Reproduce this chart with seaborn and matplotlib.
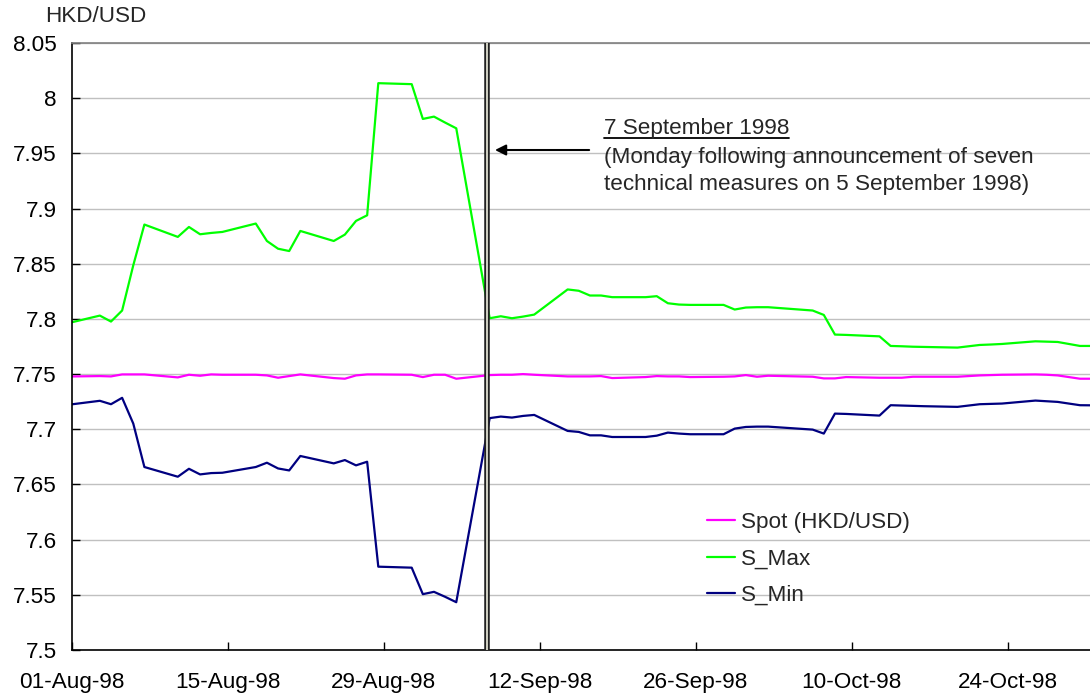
import matplotlib
matplotlib.use("Agg")
import matplotlib.pyplot as plt
import matplotlib.dates as mdates
from matplotlib.lines import Line2D
import numpy as np
import pandas as pd
import seaborn as sns

# ---------------- data ----------------
dates = ["1998-07-31",
         "1998-08-03", "1998-08-04", "1998-08-05", "1998-08-06", "1998-08-07",
         "1998-08-10", "1998-08-11", "1998-08-12", "1998-08-13", "1998-08-14",
         "1998-08-17", "1998-08-18", "1998-08-19", "1998-08-20", "1998-08-21",
         "1998-08-24", "1998-08-25", "1998-08-26", "1998-08-27", "1998-08-28",
         "1998-08-31", "1998-09-01", "1998-09-02", "1998-09-03", "1998-09-04",
         "1998-09-07", "1998-09-08", "1998-09-09", "1998-09-10", "1998-09-11",
         "1998-09-14", "1998-09-15", "1998-09-16", "1998-09-17", "1998-09-18",
         "1998-09-21", "1998-09-22", "1998-09-23", "1998-09-24", "1998-09-25",
         "1998-09-28", "1998-09-29", "1998-09-30", "1998-10-01", "1998-10-02",
         "1998-10-06", "1998-10-07", "1998-10-08", "1998-10-09",
         "1998-10-12", "1998-10-13", "1998-10-14", "1998-10-15", "1998-10-16",
         "1998-10-19", "1998-10-20", "1998-10-21", "1998-10-22", "1998-10-23",
         "1998-10-26", "1998-10-27", "1998-10-28", "1998-10-29", "1998-10-30",
         "1998-11-02"]

spot = [7.7478,
        7.7482, 7.7479, 7.7497, 7.7497, 7.7497,
        7.7470, 7.7494, 7.7485, 7.7497, 7.7494,
        7.7494, 7.7488, 7.7467, 7.7482, 7.7497,
        7.7464, 7.7458, 7.7488, 7.7497, 7.7497,
        7.7494, 7.7473, 7.7494, 7.7494, 7.7458,
        7.7491, 7.7494, 7.7494, 7.7500, 7.7494,
        7.7479, 7.7479, 7.7479, 7.7482, 7.7464,
        7.7473, 7.7482, 7.7479, 7.7479, 7.7473,
        7.7476, 7.7479, 7.7491, 7.7476, 7.7485,
        7.7476, 7.7461, 7.7461, 7.7473,
        7.7467, 7.7467, 7.7467, 7.7476, 7.7476,
        7.7476, 7.7482, 7.7488, 7.7491, 7.7494,
        7.7497, 7.7494, 7.7488, 7.7473, 7.7458,
        7.7458]

s_max = [7.7958,
         7.8030, 7.7976, 7.8076, 7.8485, 7.8855,
         7.8743, 7.8833, 7.8767, 7.8779, 7.8788,
         7.8864, 7.8706, 7.8636, 7.8615, 7.8797,
         7.8706, 7.8764, 7.8888, 7.8939, 8.0136,
         8.0127, 7.9812, 7.9833, 7.9779, 7.9727,
         7.8006, 7.8024, 7.8006, 7.8021, 7.8039,
         7.8267, 7.8255, 7.8212, 7.8212, 7.8197,
         7.8197, 7.8206, 7.8142, 7.8130, 7.8127,
         7.8127, 7.8085, 7.8103, 7.8106, 7.8106,
         7.8076, 7.8036, 7.7858, 7.7855,
         7.7842, 7.7755, 7.7752, 7.7748, 7.7746,
         7.7740, 7.7752, 7.7764, 7.7768, 7.7773,
         7.7797, 7.7794, 7.7791, 7.7773, 7.7755,
         7.7755]

s_min = [7.7220,
         7.7258, 7.7227, 7.7285, 7.7052, 7.6658,
         7.6570, 7.6642, 7.6591, 7.6603, 7.6606,
         7.6658, 7.6697, 7.6645, 7.6627, 7.6758,
         7.6691, 7.6721, 7.6673, 7.6706, 7.5755,
         7.5746, 7.5506, 7.5527, 7.5482, 7.5433,
         7.7101, 7.7115, 7.7106, 7.7121, 7.7130,
         7.6985, 7.6976, 7.6945, 7.6945, 7.6930,
         7.6930, 7.6942, 7.6970, 7.6961, 7.6955,
         7.6955, 7.7006, 7.7021, 7.7024, 7.7024,
         7.6997, 7.6961, 7.7142, 7.7139,
         7.7124, 7.7218, 7.7215, 7.7212, 7.7209,
         7.7203, 7.7215, 7.7227, 7.7230, 7.7233,
         7.7260, 7.7254, 7.7248, 7.7233, 7.7218,
         7.7215]

series_names = ["Spot (HKD/USD)", "S_Max", "S_Min"]
series_colors = ["#FF00FF", "#00FF00", "#000080"]

tick_dates = ["1998-08-01", "1998-08-15", "1998-08-29", "1998-09-12",
              "1998-09-26", "1998-10-10", "1998-10-24"]
y_ticks = [7.5, 7.55, 7.6, 7.65, 7.7, 7.75, 7.8, 7.85, 7.9, 7.95, 8.0, 8.05]
y_tick_labels = ["7.5", "7.55", "7.6", "7.65", "7.7", "7.75", "7.8", "7.85",
                 "7.9", "7.95", "8", "8.05"]
event_date = "1998-09-07"
note_title = "7 September 1998"
note_body = ["(Monday following announcement of seven",
             "technical measures on 5 September 1998)"]
unit_label = "HKD/USD"

# ---------------- figure ----------------
sns.set_theme(style="white")
plt.rcParams["font.family"] = ["Liberation Sans", "DejaVu Sans"]
FS = 16.2

W, H = 1090, 695
fig = plt.figure(figsize=(W / 100, H / 100), dpi=100)
ax = fig.add_axes([72 / W, 1 - 650 / H, 1018 / W, 607 / H])

# daily points are drawn in the middle of their day slot (Excel style)
x = pd.to_datetime(dates) + pd.Timedelta(hours=12)
df = pd.DataFrame({
    "date": np.concatenate([x, x, x]),
    "value": spot + s_max + s_min,
    "series": np.repeat(series_names, len(dates)),
})

sns.lineplot(data=df, x="date", y="value", hue="series",
             hue_order=series_names, palette=series_colors,
             linewidth=1.6, ax=ax, legend=True)

x_start = pd.Timestamp("1998-08-01")
ax.set_xlim(x_start, x_start + pd.Timedelta(days=91.4))
ax.set_ylim(7.5, 8.05)

ax.set_yticks(y_ticks)
ax.set_yticklabels(y_tick_labels, fontsize=FS)
ax.set_xticks(pd.to_datetime(tick_dates))
ax.xaxis.set_major_formatter(mdates.DateFormatter("%d-%b-%y"))
for lab in ax.get_xticklabels():
    lab.set_fontsize(FS)
ax.tick_params(axis="y", direction="in", length=6, width=1, pad=11,
               colors="black", left=True)
ax.tick_params(axis="x", direction="in", length=6, width=1, pad=16,
               colors="black", bottom=True)
ax.set_xlabel("")
ax.set_ylabel("")

ax.yaxis.grid(True, color="#c0c0c0", linewidth=1)
ax.xaxis.grid(False)
ax.set_axisbelow(True)
for side in ["left", "bottom"]:
    ax.spines[side].set_color("black")
    ax.spines[side].set_linewidth(1.2)
ax.spines["top"].set_color("#808080")
ax.spines["top"].set_linewidth(1.2)
ax.spines["right"].set_visible(False)

# event marker: double vertical line
ev = pd.Timestamp(event_date) + pd.Timedelta(hours=7)
ax.axvline(ev, color="#222222", linewidth=4.0, zorder=5)
ax.axvline(ev, color="#f0f0e0", linewidth=1.2, zorder=6)

# arrow
ax.annotate("", xy=(0.4155, 0.8237), xytext=(0.508, 0.8237),
            xycoords="axes fraction", textcoords="axes fraction",
            arrowprops=dict(arrowstyle="-|>", color="black", lw=1.5,
                            mutation_scale=16, shrinkA=0, shrinkB=0))

# legend
leg = ax.legend(loc="upper left", bbox_to_anchor=(0.6235, 0.227),
                frameon=False, fontsize=FS, handlelength=1.25,
                handletextpad=0.28, labelspacing=0.68, borderpad=0,
                borderaxespad=0)
for h in leg.get_lines():
    h.set_linewidth(1.6)

# texts
fig.text(45 / W, 1 - 17 / H, unit_label, fontsize=FS, va="center", ha="left")
t1 = fig.text(604 / W, 1 - 134 / H, note_title, fontsize=FS,
              va="baseline", ha="left")
fig.text(604 / W, 1 - 163 / H, note_body[0], fontsize=FS,
         va="baseline", ha="left")
fig.text(604 / W, 1 - 190 / H, note_body[1], fontsize=FS,
         va="baseline", ha="left")

fig.canvas.draw()
bb = t1.get_window_extent()
uy = (H - 138) / H
fig.add_artist(Line2D([bb.x0 / W, bb.x1 / W], [uy, uy],
                      transform=fig.transFigure, color="black", lw=1.3))

fig.savefig("out.png", dpi=100)
